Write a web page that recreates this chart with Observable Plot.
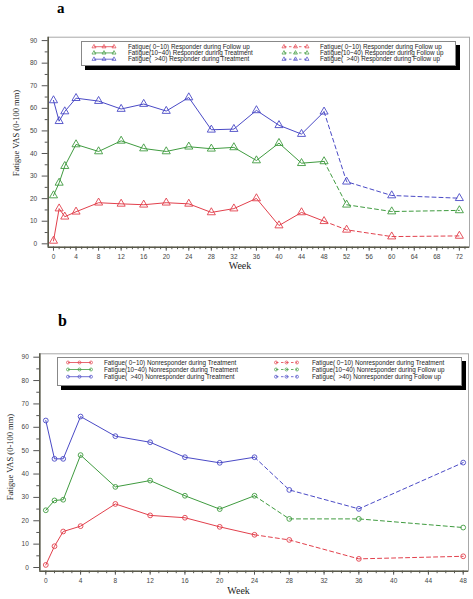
<!DOCTYPE html>
<html><head><meta charset="utf-8">
<script src="https://cdn.jsdelivr.net/npm/d3@7"></script>
<script src="https://cdn.jsdelivr.net/npm/@observablehq/plot@0.6"></script>
<style>
body{margin:0;background:#fff;}
#root{position:relative;width:473px;height:599px;overflow:hidden;background:#fff;font-family:"Liberation Sans",Arial,sans-serif;}
.panel{position:absolute;left:0;}
.tag{position:absolute;font-family:"Liberation Serif",serif;font-weight:bold;font-size:16px;line-height:1;}
#tagA{font-size:15px;}
.xt{position:absolute;font-family:"Liberation Serif",serif;font-size:10px;color:#222;transform:translate(-50%,-50%);line-height:1;}
.yt{position:absolute;font-family:"Liberation Serif",serif;font-size:8.5px;color:#222;transform:translate(-50%,-50%) rotate(-90deg);white-space:nowrap;line-height:1;}
.legend{position:absolute;border:1px solid #888;background:#fff;box-shadow:4px 4px 0 #000;box-sizing:border-box;}
.lt{position:absolute;font-size:6.3px;white-space:pre;line-height:1;color:#222;transform:translateY(-50%);}
</style></head>
<body><div id="root"></div>
<script>
// ---------- data ----------
const seriesKeys = ["0-10", "10-40", ">40"];
const seriesColors = ["#e2404c", "#3f9b3f", "#4a4ac6"];

// Panel a: responders
const weeksA = [0,1,2,4,8,12,16,20,24,28,32,36,40,44,48,52,60,72];
const lastTreatA = 48;
const lowA  = [1.3,15.6,12.0,14.2,18.2,17.7,17.3,18.2,17.7,13.9,15.6,20.1,8.1,13.9,10.0,6.2,3.2,3.5];
const midA  = [21.4,27.0,34.4,44.0,40.9,45.6,42.2,40.9,43.0,42.1,42.7,36.9,44.6,35.7,36.5,17.3,14.3,14.8];
const highA = [63.5,54.3,58.6,64.5,63.2,59.7,61.9,58.8,64.8,50.5,50.8,59.1,52.5,48.6,58.5,27.5,21.4,20.2];
const xTicksA = [0,4,8,12,16,20,24,28,32,36,40,44,48,52,56,60,64,68,72];

// Panel b: nonresponders
const weeksB = [0,1,2,4,8,12,16,20,24,28,36,48];
const lastTreatB = 24;
const lowB  = [1.1,9.1,15.4,17.7,27.2,22.3,21.3,17.4,14.0,11.8,3.7,4.8];
const midB  = [24.5,28.7,29.0,48.1,34.5,37.2,30.7,25.0,30.7,20.8,20.8,17.1];
const highB = [62.9,46.5,46.5,64.6,56.2,53.6,47.2,44.8,47.2,33.2,25.1,44.9];
const xTicksB = [0,4,8,12,16,20,24,28,32,36,40,44,48];

const yTicks = [0,10,20,30,40,50,60,70,80,90];
const yMinor = [5,15,25,35,45,55,65,75,85];

const legendA1 = ["Fatigue( 0~10) Responder during Follow up","Fatigue(10~40) Responder during Treatment","Fatigue(  >40) Responder during Treatment"];
const legendA2 = ["Fatigue( 0~10) Responder during Follow up","Fatigue(10~40) Responder during Follow up","Fatigue(  >40) Responder during Follow up"];
const legendB1 = ["Fatigue( 0~10) Nonresponder during Treatment","Fatigue(10~40) Nonresponder during Treatment","Fatigue(  >40) Nonresponder during Treatment"];
const legendB2 = ["Fatigue( 0~10) Nonresponder during Treatment","Fatigue(10~40) Nonresponder during Follow up","Fatigue(  >40) Nonresponder during Follow up"];

const yLabel = "Fatigue VAS (0-100 mm)";
const xLabel = "Week";

// ---------- drawing ----------
const root = document.getElementById("root");

function makePanel(o) {
  const rows = [];
  o.series.forEach((vals, k) => o.weeks.forEach((w, i) => rows.push({week: w, v: vals[i], key: seriesKeys[k]})));
  const treat = rows.filter(d => d.week <= o.last);
  const follow = rows.filter(d => d.week >= o.last);
  const xMinor = d3.range(0, o.xDomain[1], 1);
  const chart = Plot.plot({
    width: 473, height: o.height,
    marginTop: o.mt, marginBottom: o.mb, marginLeft: o.ml, marginRight: o.mr,
    x: {domain: o.xDomain},
    y: {domain: o.yDomain},
    color: {domain: seriesKeys, range: seriesColors},
    style: {fontFamily: "'Liberation Sans', Arial, sans-serif", fontSize: "6.5px", color: "#444", background: "transparent", overflow: "visible"},
    marks: [
      Plot.frame({stroke: "#a8a8a8", strokeWidth: 1}),
      Plot.axisX({ticks: xMinor, tickSize: 2.5, tickFormat: () => "", label: null, stroke: "#555"}),
      Plot.axisX({ticks: o.xTicks, tickSize: 4, tickPadding: 3, label: null, stroke: "#555", fill: "#444"}),
      Plot.axisY({ticks: yMinor, tickSize: 3, tickFormat: () => "", label: null, stroke: "#555"}),
      Plot.axisY({ticks: yTicks, tickSize: 6, tickPadding: 5, label: null, stroke: "#555", fill: "#444"}),
      Plot.ruleY([o.yDomain[0]], {stroke: "#5a5a4a", strokeWidth: 1.6}),
      Plot.ruleX([o.xDomain[0]], {stroke: "#5a5a4a", strokeWidth: 1.6}),
      Plot.line(treat, {x: "week", y: "v", z: "key", stroke: "key", strokeWidth: 1}),
      Plot.line(follow, {x: "week", y: "v", z: "key", stroke: "key", strokeWidth: 1, strokeDasharray: "4,3"}),
      Plot.dot(rows, {x: "week", y: "v", stroke: "key", symbol: o.symbol, r: o.r, fill: "none", strokeWidth: 0.9})
    ]
  });
  const wrap = document.createElement("div");
  wrap.className = "panel";
  wrap.style.top = o.top + "px";
  wrap.appendChild(chart);
  root.appendChild(wrap);
}

function addText(cls, text, x, y, id) {
  const d = document.createElement("div");
  d.className = cls; d.textContent = text;
  if (id) d.id = id;
  d.style.left = x + "px"; d.style.top = y + "px";
  root.appendChild(d);
}

function makeLegend(o) {
  const box = document.createElement("div");
  box.className = "legend";
  Object.assign(box.style, {left: o.left + "px", top: o.top + "px", width: o.width + "px", height: o.height + "px"});
  root.appendChild(box);
  const svg = d3.select(root).append("svg")
    .style("position", "absolute").style("left", 0).style("top", 0)
    .attr("width", 473).attr("height", 599).style("pointer-events", "none");
  const sym = d3.symbol().type(o.symbol === "triangle" ? d3.symbolTriangle : d3.symbolCircle).size(o.symSize);
  o.cols.forEach((col, ci) => {
    col.labels.forEach((lab, i) => {
      const y = o.rowsY[i];
      const c = seriesColors[i];
      svg.append("line").attr("x1", col.s0).attr("x2", col.s1).attr("y1", y).attr("y2", y)
        .attr("stroke", c).attr("stroke-width", 0.8).attr("stroke-dasharray", ci === 1 ? "2.5,2.5" : null);
      [col.s0, (col.s0 + col.s1) / 2, col.s1].forEach(x => {
        svg.append("path").attr("d", sym).attr("transform", `translate(${x},${y})`)
          .attr("fill", "none").attr("stroke", c).attr("stroke-width", 0.7);
      });
      const t = document.createElement("div");
      t.className = "lt"; t.textContent = lab;
      t.style.left = col.t + "px"; t.style.top = y + "px";
      root.appendChild(t);
    });
  });
}

makePanel({
  top: 0, height: 280, mt: 36.7, mb: 33.3, ml: 47.7, mr: 4,
  xDomain: [-0.94, 73.8], yDomain: [-1.5, 91.5],
  weeks: weeksA, last: lastTreatA, series: [lowA, midA, highA],
  xTicks: xTicksA, symbol: "triangle", r: 3
});
makePanel({
  top: 300, height: 299, mt: 53.3, mb: 28.3, ml: 39.3, mr: 5,
  xDomain: [-0.69, 48.61], yDomain: [-1.58, 91.45],
  weeks: weeksB, last: lastTreatB, series: [lowB, midB, highB],
  xTicks: xTicksB, symbol: "circle", r: 2.4
});

makeLegend({
  left: 81, top: 40.5, width: 375, height: 25.5, symbol: "triangle", symSize: 7,
  rowsY: [46.7, 52.9, 59.2],
  cols: [{s0: 94, s1: 114, t: 128, labels: legendA1}, {s0: 284, s1: 307, t: 320, labels: legendA2}]
});
makeLegend({
  left: 57, top: 357, width: 405, height: 29, symbol: "circle", symSize: 7,
  rowsY: [362.5, 369.5, 376.7],
  cols: [{s0: 68, s1: 91, t: 104, labels: legendB1}, {s0: 276, s1: 297, t: 312, labels: legendB2}]
});

addText("tag", "a", 57, 1, "tagA");
addText("tag", "b", 58, 313);
addText("xt", xLabel, 240, 266);
addText("xt", xLabel, 238.6, 590.7);
addText("yt", yLabel, 16, 133);
addText("yt", yLabel, 9.5, 457);
</script>
</body></html>
